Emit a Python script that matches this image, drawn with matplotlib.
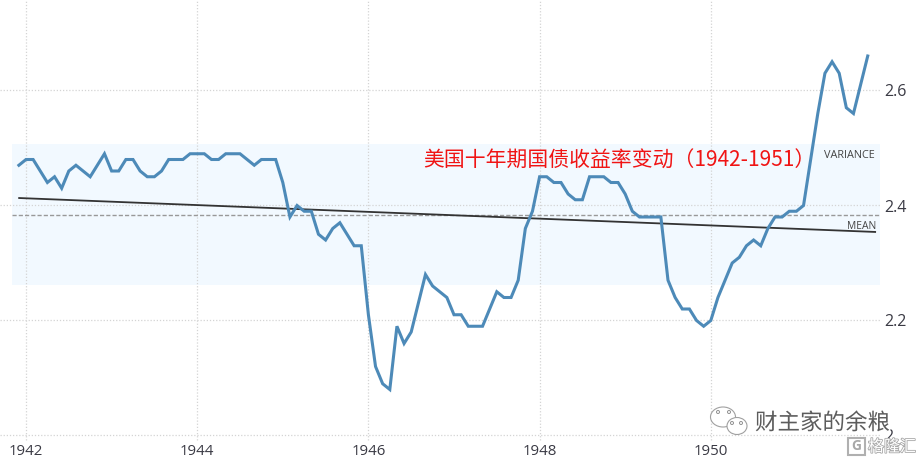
import numpy as np
import matplotlib
matplotlib.use("Agg")
import matplotlib.pyplot as plt
import matplotlib.patheffects as pe
from matplotlib.patches import Ellipse, Rectangle, Polygon

plt.rcParams['font.family'] = ['Noto Sans CJK SC', 'DejaVu Sans']

start_year = 1941 + 11 / 12
yields = [2.47, 2.48, 2.48, 2.46, 2.44, 2.45, 2.43, 2.46, 2.47, 2.46, 2.45, 2.47,
          2.49, 2.46, 2.46, 2.48, 2.48, 2.46, 2.45, 2.45, 2.46, 2.48, 2.48, 2.48,
          2.49, 2.49, 2.49, 2.48, 2.48, 2.49, 2.49, 2.49, 2.48, 2.47, 2.48, 2.48,
          2.48, 2.44, 2.38, 2.40, 2.39, 2.39, 2.35, 2.34, 2.36, 2.37, 2.35, 2.33,
          2.33, 2.21, 2.12, 2.09, 2.08, 2.19, 2.16, 2.18, 2.23, 2.28, 2.26, 2.25,
          2.24, 2.21, 2.21, 2.19, 2.19, 2.19, 2.22, 2.25, 2.24, 2.24, 2.27, 2.36,
          2.39, 2.45, 2.45, 2.44, 2.44, 2.42, 2.41, 2.41, 2.45, 2.45, 2.45, 2.44,
          2.44, 2.42, 2.39, 2.38, 2.38, 2.38, 2.38, 2.27, 2.24, 2.22, 2.22,
          2.20, 2.19, 2.20, 2.24, 2.27, 2.30, 2.31, 2.33, 2.34, 2.33, 2.36, 2.38,
          2.38, 2.39, 2.39, 2.40, 2.48, 2.56, 2.63, 2.65, 2.63, 2.57, 2.56, 2.61,
          2.66]
years = [start_year + i / 12 for i in range(len(yields))]

x_ticks = [1942, 1944, 1946, 1948, 1950]
y_ticks = [2.0, 2.2, 2.4, 2.6]
y_tick_labels = ['2', '2.2', '2.4', '2.6']
band_low, band_high = 2.262, 2.507
mean_value = 2.384
trend_x = [1941.92, 1951.92]
trend_y = [2.413, 2.354]

# pixel -> data helpers, axes fill the whole figure
px_per_year = 85.6
px_per_unit = 575.0
def X(p):
    return 1942 + (p - 26) / px_per_year
def Y(p):
    return 2.4 + (205.5 - p) / px_per_unit

fig = plt.figure(figsize=(9.2, 4.63), dpi=100)
ax = fig.add_axes([0, 0, 1, 1])
ax.set_xlim(X(0), X(920))
ax.set_ylim(Y(463), Y(0))
ax.axis('off')

grid_color = '#d4d4d4'
for t in x_ticks:
    ax.plot([t, t], [Y(440), Y(0)], color=grid_color, lw=0.9, ls=(0, (1, 1.5)), zorder=1)
for v in y_ticks:
    ax.plot([X(0), X(880)], [v, v], color=grid_color, lw=0.9, ls=(0, (1, 1.5)), zorder=1)

ax.fill_between([X(12), X(880)], band_low, band_high, color='#f2f9ff', lw=0, zorder=0)
ax.plot([X(12), X(880)], [mean_value, mean_value], color='#999999', lw=1, ls=(0, (3, 1.5)), zorder=2)
ax.plot(trend_x, trend_y, color='#333333', lw=1.3, zorder=3)
ax.plot(years, yields, color='#4d8ab8', lw=2.2, solid_joinstyle='miter', zorder=4)

tick_color = '#3a3a44'
tick_font = ['Open Sans', 'DejaVu Sans']
for t in x_ticks:
    ax.text(t, Y(452), str(t), ha='center', va='center', fontsize=10.8, color=tick_color, family=tick_font)
for v, s in zip(y_ticks, y_tick_labels):
    ax.text(X(884), Y(206 + (2.4 - v) * px_per_unit + 1.5), s, ha='left', va='center', fontsize=11.5, color=tick_color, family=tick_font, zorder=6)

ax.text(X(875), Y(156), 'VARIANCE', ha='right', va='center', fontsize=7.8, color='#444444', family=tick_font)
ax.text(X(876), Y(226.5), 'MEAN', ha='right', va='center', fontsize=7.4, color='#444444', family=tick_font)

ax.text(X(423), Y(161), '美国十年期国债收益率变动（1942-1951）', ha='left', va='center', fontsize=15, color='#f01414', zorder=7)

# watermark
ax.text(X(755), Y(423), '财主家的余粮', ha='left', va='center', fontsize=16.2, color='#5c5c5c', zorder=8,
        path_effects=[pe.withStroke(linewidth=2, foreground='white')])
ax.text(X(868), Y(447), '格隆汇', ha='left', va='center', fontsize=11.5, color='white', zorder=8,
        path_effects=[pe.withStroke(linewidth=1.2, foreground='#a8a8a8')])
ax.add_patch(Rectangle((X(848), Y(455)), 17 / px_per_year, 17 / px_per_unit, fc='white', ec='#b0b0b0', lw=1.5, zorder=8))
ax.text(X(856.5), Y(446), 'G', ha='center', va='center', fontsize=10, color='#a8a8a8', zorder=9, fontweight='bold', family=tick_font)

# wechat bubbles
for cx, cy, w, h in [(723, 417, 25, 20), (737, 426, 20, 17)]:
    ax.add_patch(Ellipse((X(cx), Y(cy)), w / px_per_year, h / px_per_unit, fc='white', ec='#a0a0a0', lw=0.8, zorder=8))
for cx, cy in [(718, 412), (729, 412), (732, 423), (741, 423)]:
    ax.add_patch(Ellipse((X(cx), Y(cy)), 3 / px_per_year, 3 / px_per_unit, fc='white', ec='#909090', lw=0.7, zorder=9))

fig.savefig('out.png', dpi=100)
